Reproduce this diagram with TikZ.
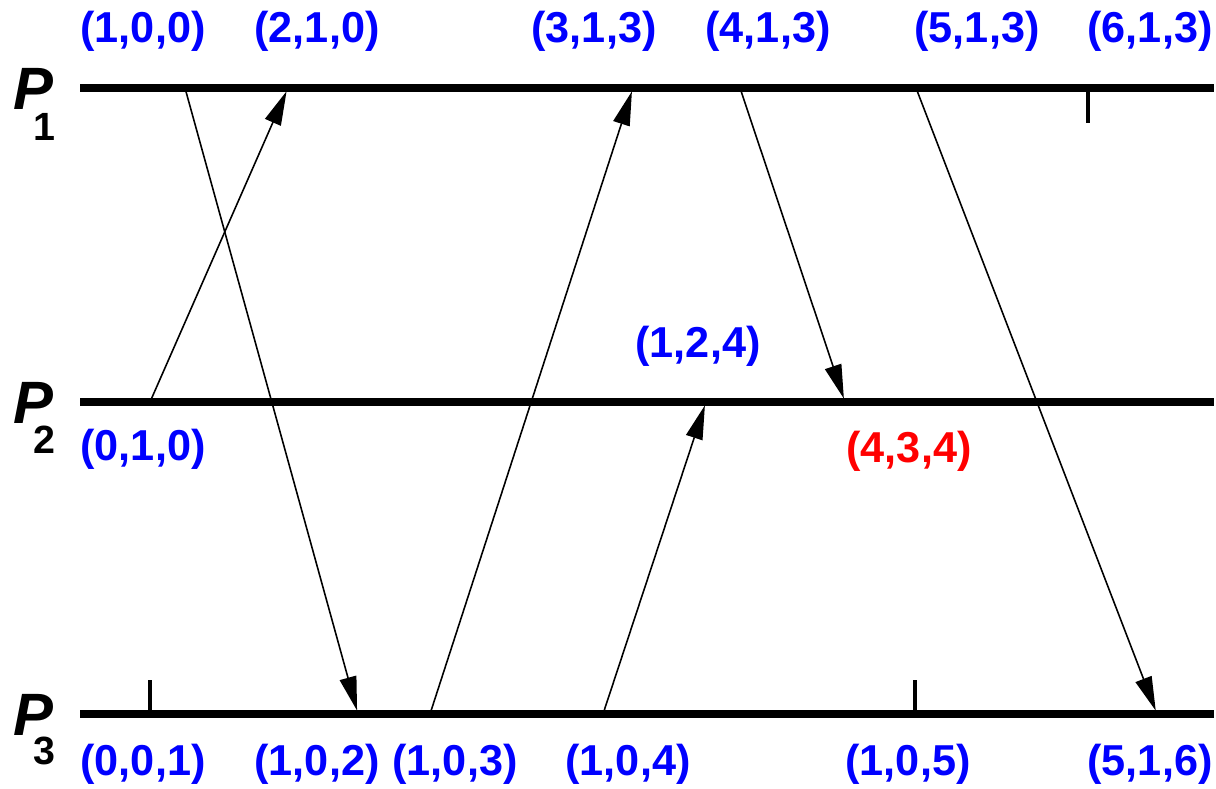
\documentclass[tikz,border=0pt]{standalone}
\usepackage{fontspec}
\setmainfont{Liberation Sans}
\usetikzlibrary{arrows.meta}
\definecolor{vblue}{RGB}{0,0,255}
\definecolor{vred}{RGB}{255,0,0}
\begin{document}
\begin{tikzpicture}[x=0.01cm,y=-0.01cm,
  proc/.style={line width=2.3pt, black},
  tickmark/.style={line width=1.1pt, black},
  msg/.style={line width=0.45pt, -{Triangle[length=3.4mm,width=1.7mm]}, shorten >=1pt},
  vc/.style={anchor=base, inner sep=0pt, font=\fontsize{12.3}{14}\selectfont\bfseries, text=vblue},
  vcred/.style={vc, text=vred},
  plabel/.style={anchor=base west, inner sep=0pt, font=\fontsize{17}{20}\selectfont\bfseries\itshape},
  psub/.style={anchor=base, inner sep=0pt, font=\fontsize{11.2}{13}\selectfont\bfseries}]
\useasboundingbox (0,0) rectangle (1216,788);
% process lines
\coordinate (p1s) at (80,88);  \coordinate (p1e) at (1214,88);
\coordinate (p2s) at (80,402); \coordinate (p2e) at (1214,402);
\coordinate (p3s) at (80,714); \coordinate (p3e) at (1214,714);
% events
\coordinate (e11) at (185,88);  \coordinate (e12) at (288,88);
\coordinate (e13) at (633,88);  \coordinate (e14) at (740,88);
\coordinate (e15) at (916,88);  \coordinate (e16) at (1088,88);
\coordinate (e21) at (150,402); \coordinate (e22) at (706,402);
\coordinate (e23) at (845,402);
\coordinate (e31) at (150,714); \coordinate (e32) at (358,714);
\coordinate (e33) at (430,714); \coordinate (e34) at (603,714);
\coordinate (e35) at (915,714); \coordinate (e36) at (1157,714);
% messages
\draw[msg] (e11) -- (e32);
\draw[msg] (e21) -- (e12);
\draw[msg] (e33) -- (e13);
\draw[msg] (e14) -- (e23);
\draw[msg] (e34) -- (e22);
\draw[msg] (e15) -- (e36);
% lines
\draw[proc] (p1s) -- (p1e);
\draw[proc] (p2s) -- (p2e);
\draw[proc] (p3s) -- (p3e);
% ticks
\draw[tickmark] (e16) -- ++(0,35);
\draw[tickmark] (e31) -- ++(0,-34);
\draw[tickmark] (e35) -- ++(0,-34);
% process labels
\node[plabel] (P1) at (13,110) {P};
\node[psub] (P1s) at (44,140) {1};
\node[plabel] (P2) at (13,423) {P};
\node[psub] (P2s) at (44,453) {2};
\node[plabel] (P3) at (13,735) {P};
\node[psub] (P3s) at (44,764) {3};
% vector clocks P1
\node[vc] (v11) at (143,43) {(1,0,0)};
\node[vc] (v12) at (317,43) {(2,1,0)};
\node[vc] (v13) at (594,43) {(3,1,3)};
\node[vc] (v14) at (768,43) {(4,1,3)};
\node[vc] (v15) at (977,43) {(5,1,3)};
\node[vc] (v16) at (1150,43) {(6,1,3)};
% P2
\node[vc] (v21) at (143,460) {(0,1,0)};
\node[vc] (v22) at (698,357) {(1,2,4)};
\node[vcred] (v23) at (909,462) {(4,3,4)};
% P3
\node[vc] (v31) at (143,775) {(0,0,1)};
\node[vc] (v32) at (317,775) {(1,0,2)};
\node[vc] (v33) at (455,775) {(1,0,3)};
\node[vc] (v34) at (628,775) {(1,0,4)};
\node[vc] (v35) at (908,775) {(1,0,5)};
\node[vc] (v36) at (1150,775) {(5,1,6)};
\end{tikzpicture}
\end{document}
